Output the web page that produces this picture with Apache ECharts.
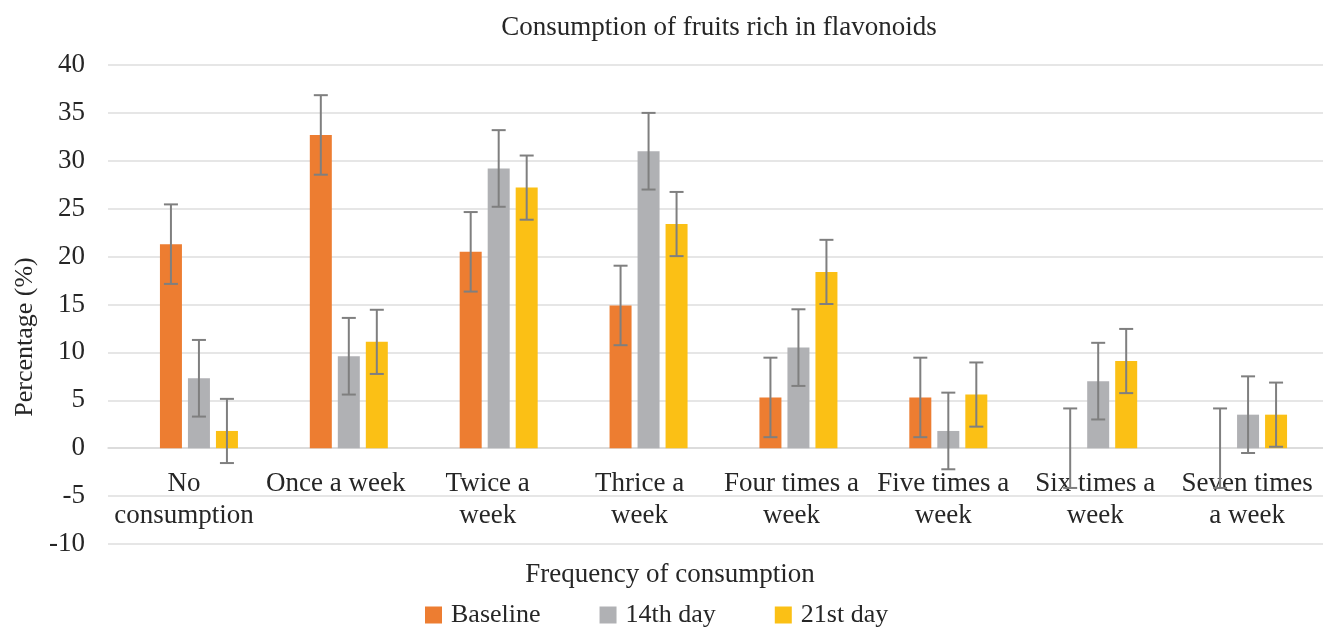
<!DOCTYPE html>
<html>
<head>
<meta charset="utf-8">
<script src="https://cdn.jsdelivr.net/npm/echarts@6/dist/echarts.min.js"></script>
<style>
  html, body { margin: 0; padding: 0; background: #ffffff; }
  #chart { width: 1323px; height: 628px; }
</style>
</head>
<body>
<div id="chart"></div>
<script>
// ---- data ----
const categoryLabels = [
  "No\nconsumption", "Once a week", "Twice a\nweek", "Thrice a\nweek",
  "Four times a\nweek", "Five times a\nweek", "Six times a\nweek", "Seven times\na week"
];
const seriesNames = ["Baseline", "14th day", "21st day"];
const baselineValues = [21.3, 32.7, 20.5, 14.9, 5.3, 5.3, 0, 0];
const day14Values    = [7.3, 9.6, 29.2, 31.0, 10.5, 1.8, 7.0, 3.5];
const day21Values    = [1.8, 11.1, 27.2, 23.4, 18.4, 5.6, 9.1, 3.5];
const baselineErrors = [4.15, 4.15, 4.15, 4.15, 4.15, 4.15, 4.15, 4.15];
const day14Errors    = [4.0, 4.0, 4.0, 4.0, 4.0, 4.0, 4.0, 4.0];
const day21Errors    = [3.35, 3.35, 3.35, 3.35, 3.35, 3.35, 3.35, 3.35];
const yTicks = { min: -10, max: 40, interval: 5 };

// ---- styling ----
const FONT = "Liberation Serif";
const TEXT = "#262626";
const COLORS = ["#ED7D31", "#B0B1B4", "#FBC015"];
const BAR_W = 22, BAR_GAP = 6;
const GRID_TOP = 65, GRID_H = 479, GRID_W = 1222;
// category axis sits on the zero line (Excel style): shift it up from the grid bottom
const AXIS_SHIFT = -(0 - yTicks.min) / (yTicks.max - yTicks.min) * GRID_H;

const allValues = [baselineValues, day14Values, day21Values];
const allErrors = [baselineErrors, day14Errors, day21Errors];

const chart = echarts.init(document.getElementById('chart'), null, { renderer: 'canvas' });

const barSeries = seriesNames.map((name, s) => ({
  name: name,
  type: 'bar',
  xAxisIndex: 1,
  yAxisIndex: 1,
  barWidth: BAR_W,
  barGap: (BAR_GAP / BAR_W * 100) + '%',
  itemStyle: { color: COLORS[s] },
  data: allValues[s],
  z: 2
}));

const errSeries = seriesNames.map((name, s) => ({
  name: name + ' error',
  type: 'custom',
  xAxisIndex: 1,
  yAxisIndex: 1,
  z: 4,
  silent: true,
  data: allValues[s].map((v, i) => [i, v - allErrors[s][i], v + allErrors[s][i]]),
  encode: { x: 0, y: [1, 2] },
  renderItem: function (params, api) {
    const off = (s - 1) * (BAR_W + BAR_GAP);
    const lo = api.coord([api.value(0), api.value(1)]);
    const hi = api.coord([api.value(0), api.value(2)]);
    const x = lo[0] + off;
    const cap = 7;
    const st = { stroke: '#7F7F7F', lineWidth: 2 };
    return {
      type: 'group',
      children: [
        { type: 'line', shape: { x1: x, y1: lo[1], x2: x, y2: hi[1] }, style: st },
        { type: 'line', shape: { x1: x - cap, y1: lo[1], x2: x + cap, y2: lo[1] }, style: st },
        { type: 'line', shape: { x1: x - cap, y1: hi[1], x2: x + cap, y2: hi[1] }, style: st }
      ]
    };
  }
}));

const option = {
  animation: false,
  backgroundColor: '#ffffff',
  textStyle: { fontFamily: FONT, color: TEXT },
  grid: [
    { left: 108, top: GRID_TOP, width: GRID_W, height: GRID_H, containLabel: false },
    { left: 124, top: GRID_TOP, width: GRID_W, height: GRID_H, containLabel: false }
  ],
  xAxis: [
    {
      type: 'category', gridIndex: 0, data: categoryLabels,
      position: 'bottom', offset: AXIS_SHIFT,
      axisLine: { show: true, onZero: false, lineStyle: { color: '#D9D9D9', width: 1.5 } },
      axisTick: { show: false },
      axisLabel: { interval: 0, fontFamily: FONT, fontSize: 27, color: TEXT, margin: 20, lineHeight: 32, align: 'center' },
      splitLine: { show: false }
    },
    {
      type: 'category', gridIndex: 1, data: categoryLabels, show: false
    }
  ],
  yAxis: [
    {
      type: 'value', gridIndex: 0, min: yTicks.min, max: yTicks.max, interval: yTicks.interval,
      axisLine: { show: false }, axisTick: { show: false },
      axisLabel: { fontFamily: FONT, fontSize: 27, color: TEXT, margin: 23 },
      splitLine: { lineStyle: { color: '#DEDEDE', width: 1.5 } }
    },
    {
      type: 'value', gridIndex: 1, min: yTicks.min, max: yTicks.max, interval: yTicks.interval, show: false,
      splitLine: { show: false }
    }
  ],
  legend: {
    data: seriesNames,
    left: 425, top: 602,
    padding: 0,
    itemWidth: 17, itemHeight: 17, itemGap: 59,
    icon: 'rect',
    textStyle: { fontFamily: FONT, fontSize: 26, color: TEXT, lineHeight: 26, padding: [0, 0, 0, 4] }
  },
  graphic: [
    {
      type: 'text', x: 719, y: 28,
      style: { text: 'Consumption of fruits rich in flavonoids', fontFamily: FONT, fontSize: 27, fill: TEXT,
               align: 'center', verticalAlign: 'middle', textAlign: 'center', textVerticalAlign: 'middle' }
    },
    {
      type: 'text', x: 670, y: 575,
      style: { text: 'Frequency of consumption', fontFamily: FONT, fontSize: 27, fill: TEXT,
               align: 'center', verticalAlign: 'middle', textAlign: 'center', textVerticalAlign: 'middle' }
    },
    {
      type: 'text', x: 25, y: 337, rotation: Math.PI / 2,
      style: { text: 'Percentage (%)', fontFamily: FONT, fontSize: 26, fill: TEXT,
               align: 'center', verticalAlign: 'middle', textAlign: 'center', textVerticalAlign: 'middle' }
    }
  ],
  series: barSeries.concat(errSeries)
};

chart.setOption(option);
</script>
</body>
</html>
